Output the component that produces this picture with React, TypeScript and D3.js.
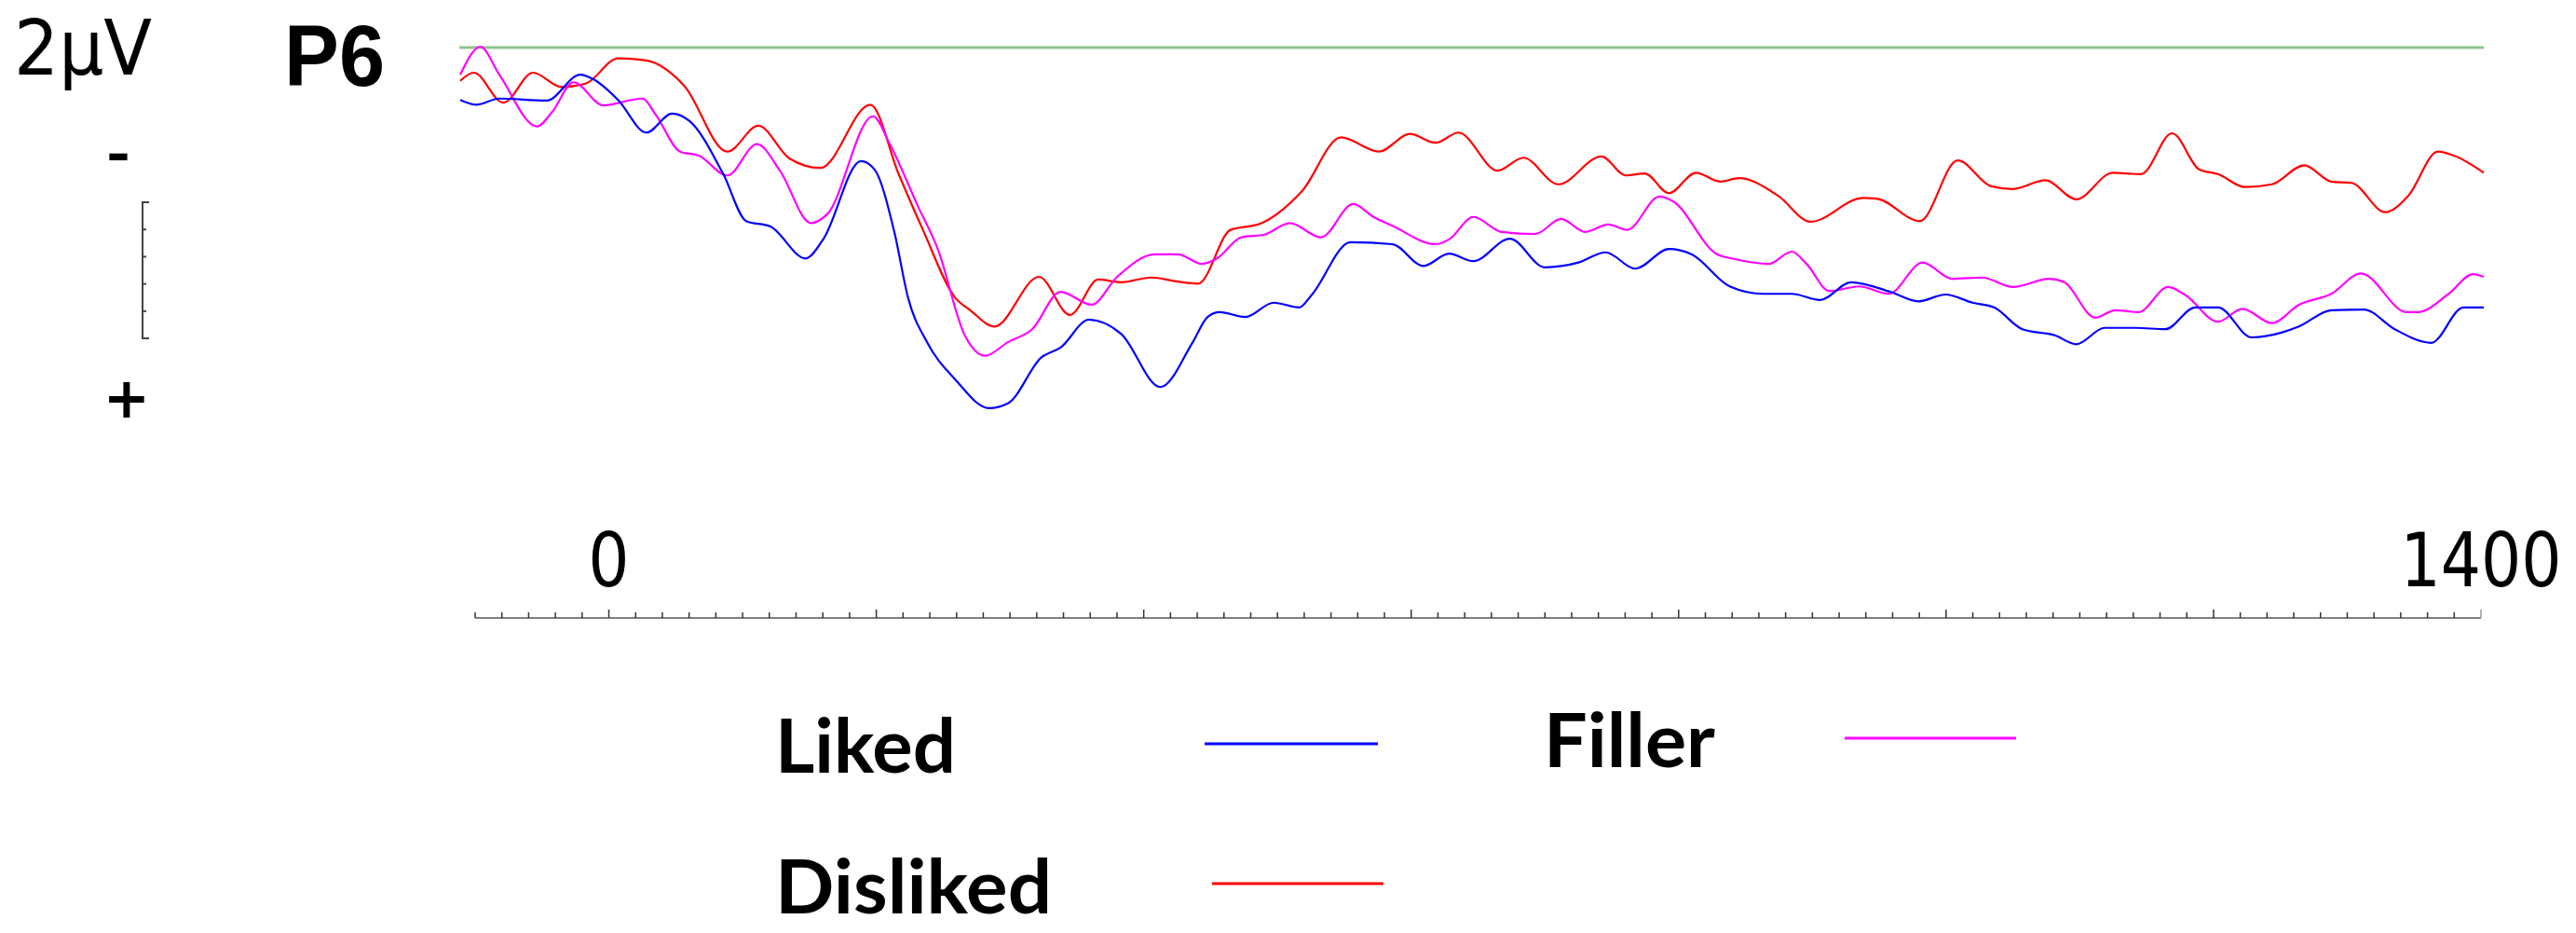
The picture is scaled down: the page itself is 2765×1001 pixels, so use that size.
import React from 'react';
import * as d3 from 'd3';

// ---- data (time in ms, amplitude in µV, negative plotted up) ----
const likedWave: [number, number][] = [
  [-100, 0.77], [-88, 0.84], [-71, 0.75], [-36, 0.78], [-11, 0.4], [-1, 0.47], [17, 0.77], [38, 1.25],
  [57, 0.97], [70, 1.08], [95, 1.86], [112, 2.55], [130, 2.63], [156, 3.1], [169, 2.82], [197, 1.67],
  [207, 1.79], [222, 2.73], [232, 3.68], [246, 4.33], [267, 4.88], [292, 5.3], [306, 5.23], [331, 4.55],
  [345, 4.41], [366, 4.0], [390, 4.21], [419, 4.99], [443, 4.33], [454, 3.96], [463, 3.89], [482, 3.96],
  [503, 3.75], [522, 3.82], [531, 3.64], [560, 2.86], [591, 2.89], [614, 3.21], [633, 3.03], [651, 3.14],
  [678, 2.81], [704, 3.23], [729, 3.16], [749, 3.01], [771, 3.25], [796, 2.96], [813, 3.04], [841, 3.51],
  [866, 3.62], [887, 3.62], [908, 3.71], [931, 3.45], [960, 3.59], [981, 3.73], [1001, 3.63], [1021, 3.75],
  [1037, 3.82], [1058, 4.14], [1082, 4.23], [1098, 4.36], [1119, 4.12], [1142, 4.12], [1164, 4.14],
  [1186, 3.82], [1203, 3.82], [1228, 4.26], [1250, 4.19], [1263, 4.1], [1287, 3.86], [1311, 3.85],
  [1334, 4.14], [1361, 4.34], [1385, 3.82], [1400, 3.82],
];

const dislikedWave: [number, number][] = [
  [-100, 0.49], [-90, 0.37], [-68, 0.81], [-46, 0.37], [-25, 0.58], [-7, 0.53], [17, 0.16], [38, 0.19],
  [66, 0.56], [98, 1.53], [121, 1.15], [144, 1.63], [167, 1.77], [204, 0.84], [225, 1.86], [243, 2.68],
  [267, 3.68], [278, 3.86], [296, 4.1], [329, 3.37], [352, 3.93], [373, 3.41], [390, 3.45], [412, 3.38],
  [432, 3.44], [447, 3.47], [471, 2.68], [493, 2.59], [524, 2.11], [553, 1.32], [581, 1.53], [604, 1.27],
  [623, 1.4], [640, 1.25], [669, 1.81], [688, 1.62], [714, 2.01], [746, 1.6], [764, 1.88], [778, 1.85],
  [796, 2.14], [816, 1.84], [834, 1.97], [848, 1.92], [877, 2.18], [901, 2.56], [940, 2.21], [950, 2.22],
  [982, 2.55], [1010, 1.66], [1035, 2.04], [1051, 2.08], [1075, 1.95], [1098, 2.23], [1125, 1.84],
  [1146, 1.86], [1169, 1.26], [1189, 1.79], [1203, 1.86], [1223, 2.05], [1243, 2.01], [1267, 1.73],
  [1287, 1.97], [1302, 1.99], [1327, 2.42], [1344, 2.18], [1366, 1.53], [1378, 1.59], [1400, 1.84],
];

const fillerWave: [number, number][] = [
  [-100, 0.4], [-85, -0.01], [-71, 0.4], [-43, 1.16], [-32, 0.95], [-16, 0.51], [6, 0.85], [35, 0.75],
  [45, 0.99], [63, 1.53], [77, 1.59], [98, 1.88], [120, 1.42], [137, 1.81], [160, 2.58], [172, 2.45],
  [206, 1.01], [218, 1.4], [239, 2.32], [254, 2.96], [274, 4.23], [289, 4.53], [306, 4.33], [324, 4.14],
  [345, 3.59], [368, 3.78], [387, 3.37], [415, 3.04], [432, 3.04], [450, 3.18], [461, 3.1], [479, 2.79],
  [496, 2.75], [515, 2.58], [538, 2.79], [562, 2.3], [577, 2.49], [591, 2.62], [623, 2.89], [633, 2.82],
  [651, 2.49], [672, 2.71], [697, 2.74], [716, 2.52], [734, 2.71], [751, 2.6], [765, 2.68], [789, 2.19],
  [799, 2.26], [831, 3.03], [845, 3.11], [870, 3.18], [887, 3.0], [898, 3.18], [915, 3.58], [937, 3.51],
  [959, 3.62], [984, 3.16], [1006, 3.4], [1028, 3.38], [1051, 3.52], [1078, 3.4], [1089, 3.45],
  [1112, 3.97], [1127, 3.86], [1144, 3.89], [1166, 3.52], [1179, 3.64], [1203, 4.03], [1221, 3.84],
  [1243, 4.05], [1263, 3.78], [1287, 3.62], [1309, 3.32], [1343, 3.89], [1351, 3.89], [1374, 3.62],
  [1392, 3.33], [1400, 3.37],
];

const seriesNames = ['Liked', 'Disliked', 'Filler'];
const seriesColors = ['#0000ff', '#ff0000', '#ff00ff'];
const xTickLabels = [0, 1400];
const timeDomain: [number, number] = [-100, 1400];
const scaleBarTicks = [0, 0.4, 0.8, 1.2, 1.6, 2.0];

const W = 2765;
const H = 1001;

export default function App() {
  // scales
  const xCurve = d3.scaleLinear().domain(timeDomain).range([494, 2666]);
  const xAxis = d3.scaleLinear().domain(timeDomain).range([510, 2663]);
  const y = d3.scaleLinear().domain([0, 6]).range([51, 51 + 6 * 73]);
  const barScale = d3.scaleLinear().domain([0, 2]).range([217, 363]);

  const line = d3
    .line<[number, number]>()
    .x((d) => xCurve(d[0]))
    .y((d) => y(d[1]))
    .curve(d3.curveMonotoneX);

  const waves = [likedWave, dislikedWave, fillerWave];
  const drawOrder = [1, 2, 0];

  const ticks = d3.range(-100, 1401, 20);
  const axisY = 663;

  // legend layout
  const legend = [
    { i: 0, tx: 832, ty: 829, tw: 194, lx1: 1293, lx2: 1479, ly: 798 },
    { i: 2, tx: 1657, ty: 823, tw: 184, lx1: 1980, lx2: 2164, ly: 792 },
    { i: 1, tx: 832, ty: 980, tw: 297, lx1: 1301, lx2: 1485, ly: 948 },
  ];

  return (
    <svg
      width={W}
      height={H}
      viewBox={`0 0 ${W} ${H}`}
      style={{ position: 'absolute', left: 0, top: 0, background: '#fff' }}
    >
      <rect x={0} y={0} width={W} height={H} fill="#fff" />

      {/* scale label */}
      <text
        x={15}
        y={80}
        fontFamily="DejaVu Sans"
        fontSize={82}
        textLength={148}
        lengthAdjust="spacingAndGlyphs"
        fill="#000"
      >
        2μV
      </text>
      <text
        x={305}
        y={92}
        fontFamily="Liberation Sans, Arial"
        fontWeight="bold"
        fontSize={92}
        textLength={108}
        lengthAdjust="spacingAndGlyphs"
        fill="#000"
      >
        P6
      </text>

      {/* polarity marks and scale bar */}
      <text
        x={114}
        y={183}
        fontFamily="DejaVu Sans"
        fontWeight="bold"
        fontSize={52}
        textLength={26}
        lengthAdjust="spacingAndGlyphs"
        fill="#000"
      >
        -
      </text>
      <text
        x={136}
        y={448}
        fontFamily="DejaVu Sans"
        fontWeight="bold"
        fontSize={60}
        textAnchor="middle"
        fill="#000"
      >
        +
      </text>
      <g stroke="#444" strokeWidth={2} fill="none">
        <path d={`M160,${barScale(0)} H153 V${barScale(2)} H160`} />
        {scaleBarTicks.slice(1, -1).map((t) => (
          <line key={t} x1={153} x2={157} y1={barScale(t)} y2={barScale(t)} />
        ))}
      </g>

      {/* baseline */}
      <line
        x1={xCurve(timeDomain[0]) - 1}
        x2={xCurve(timeDomain[1])}
        y1={y(0)}
        y2={y(0)}
        stroke="#8cc68c"
        strokeWidth={3}
      />

      {/* waves */}
      {drawOrder.map((i) => (
        <path
          key={seriesNames[i]}
          d={line(waves[i]) || ''}
          fill="none"
          stroke={seriesColors[i]}
          strokeWidth={2.2}
          strokeLinejoin="round"
        />
      ))}

      {/* time axis */}
      <line x1={xAxis(-100)} x2={xAxis(1400)} y1={axisY} y2={axisY} stroke="#808080" strokeWidth={2} />
      {ticks.map((t) => {
        const major = t % 200 === 0 || t === 1400;
        return (
          <line
            key={t}
            x1={xAxis(t)}
            x2={xAxis(t)}
            y1={axisY}
            y2={axisY - (major ? 9 : 6)}
            stroke={t === 1400 ? '#999' : '#333'}
            strokeWidth={1.5}
          />
        );
      })}
      {xTickLabels.map((t) => (
        <text
          key={t}
          transform={`translate(${xAxis(t)},629) scale(${t === 0 ? 0.86 : 0.84},1)`}
          fontFamily="DejaVu Sans"
          fontSize={81}
          textAnchor="middle"
          fill="#000"
        >
          {t}
        </text>
      ))}

      {/* legend */}
      {legend.map((l) => (
        <g key={seriesNames[l.i]}>
          <text
            x={l.tx}
            y={l.ty}
            fontFamily="Lato"
            fontWeight="bold"
            fontSize={80}
            textLength={l.tw}
            lengthAdjust="spacingAndGlyphs"
            fill="#000"
          >
            {seriesNames[l.i]}
          </text>
          <line x1={l.lx1} x2={l.lx2} y1={l.ly} y2={l.ly} stroke={seriesColors[l.i]} strokeWidth={3} />
        </g>
      ))}
    </svg>
  );
}
